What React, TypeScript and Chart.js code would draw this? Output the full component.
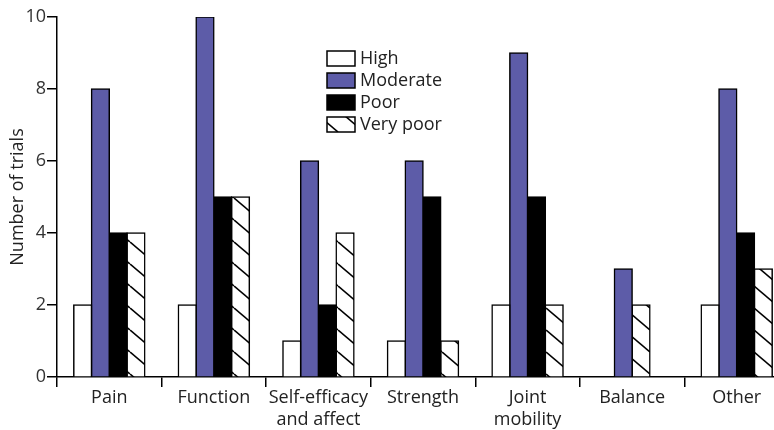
import React, { useEffect, useRef } from "react";
import { Chart, registerables } from "chart.js";

Chart.register(...registerables);

const categories: (string | string[])[] = [
  "Pain",
  "Function",
  ["Self-efficacy", "and affect"],
  "Strength",
  ["Joint", "mobility"],
  "Balance",
  "Other",
];
const seriesNames = ["High", "Moderate", "Poor", "Very poor"];
const high = [2, 2, 1, 1, 2, null, 2];
const moderate = [8, 10, 6, 6, 9, 3, 8];
const poor = [4, 5, 2, 5, 5, null, 4];
const veryPoor = [4, 5, 4, 1, 2, 2, 3];
const yTicks = [0, 2, 4, 6, 8, 10];
const yTitle = "Number of trials";

const FONT = "'Open Sans', 'DejaVu Sans', sans-serif";

function makeHatch(): CanvasPattern | string {
  const w = 26;
  const h = 22;
  const c = document.createElement("canvas");
  c.width = w;
  c.height = h;
  const g = c.getContext("2d");
  if (!g) return "#fff";
  g.fillStyle = "#fff";
  g.fillRect(0, 0, w, h);
  g.strokeStyle = "#000";
  g.lineWidth = 1.6;
  for (const dy of [-h, 0, h]) {
    g.beginPath();
    g.moveTo(0, dy);
    g.lineTo(w, dy + h);
    g.stroke();
  }
  return g.createPattern(c, "repeat") || "#fff";
}

const legendPlugin = {
  id: "boxLegend",
  afterDraw(chart: any) {
    const ctx = chart.ctx as CanvasRenderingContext2D;
    const ds = chart.data.datasets;
    ctx.save();
    ds.forEach((d: any, i: number) => {
      const x = 327;
      const y = 51 + i * 22;
      ctx.fillStyle = d.backgroundColor;
      ctx.fillRect(x, y, 28, 15);
      ctx.strokeStyle = "#000";
      ctx.lineWidth = 1.5;
      ctx.strokeRect(x, y, 28, 15);
      ctx.fillStyle = "#222";
      ctx.font = `18px ${FONT}`;
      ctx.textBaseline = "middle";
      ctx.textAlign = "left";
      ctx.fillText(d.label, 360, y + 8);
    });
    ctx.restore();
  },
};

export default function App() {
  const ref = useRef<HTMLCanvasElement | null>(null);

  useEffect(() => {
    if (!ref.current) return;
    const hatch = makeHatch();
    const fills = ["#ffffff", "#5d5ca8", "#000000", hatch];
    const values = [high, moderate, poor, veryPoor];
    const chart = new Chart(ref.current, {
      type: "bar",
      data: {
        labels: categories as any,
        datasets: seriesNames.map((name, i) => ({
          label: name,
          data: values[i] as any,
          backgroundColor: fills[i] as any,
          borderColor: "#000",
          borderWidth: 1.5,
          barThickness: 17.75,
          inflateAmount: 0.75,
          skipNull: true,
        })),
      },
      options: {
        responsive: false,
        animation: false,
        devicePixelRatio: 1,
        layout: { padding: { top: 17, right: 11, left: 0, bottom: 0 } },
        plugins: {
          legend: { display: false },
          tooltip: { enabled: false },
        },
        scales: {
          x: {
            offset: true,
            grid: {
              offset: true,
              drawOnChartArea: false,
              drawTicks: true,
              tickLength: 10,
              color: "#000",
              lineWidth: 1.5,
            },
            border: { color: "#000", width: 1.5 },
            ticks: {
              color: "#222",
              font: { family: FONT, size: 18, lineHeight: 1.2 },
              padding: 0,
              maxRotation: 0,
              autoSkip: false,
            },
            afterFit: (s: any) => {
              s.height = 53;
            },
          },
          y: {
            min: 0,
            max: 10,
            afterBuildTicks: (s: any) => {
              s.ticks = yTicks.map((v) => ({ value: v }));
            },
            grid: {
              drawOnChartArea: false,
              drawTicks: true,
              tickLength: 10,
              color: "#000",
              lineWidth: 1.5,
            },
            border: { color: "#000", width: 1.5 },
            ticks: {
              color: "#333",
              font: { family: FONT, size: 18 },
              padding: 1,
            },
            title: {
              display: true,
              text: yTitle,
              color: "#222",
              font: { family: FONT, size: 18 },
              padding: { top: 7, bottom: 0 },
            },
            afterFit: (s: any) => {
              s.width = 57;
            },
          },
        },
      } as any,
      plugins: [legendPlugin],
    });
    return () => chart.destroy();
  }, []);

  return (
    <div
      style={{
        position: "fixed",
        left: 0,
        top: 0,
        width: 774,
        height: 430,
        overflow: "hidden",
        background: "#fff",
      }}
    >
      <canvas ref={ref} width={800} height={430} style={{ display: "block" }} />
    </div>
  );
}
